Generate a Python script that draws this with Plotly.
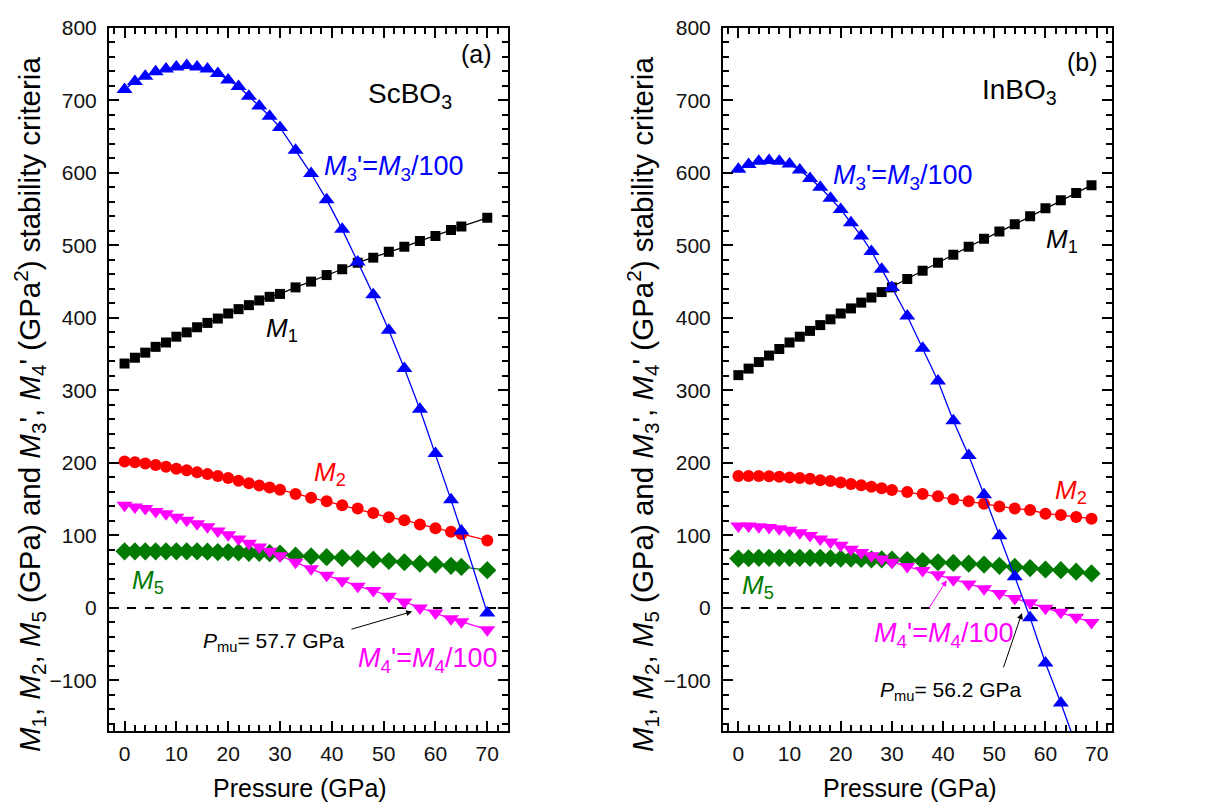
import plotly.graph_objects as go

# ---------------- data: panel (a) ScBO3 ----------------
P_a = [0, 2, 4, 6, 8, 10, 12, 14, 16, 18, 20, 22, 24, 26, 28, 30,
       33, 36, 39, 42, 45, 48, 51, 54, 57, 60, 63, 65, 70]
M1_a = [337, 345, 352, 360, 366, 374, 380, 387, 393, 399, 406, 412, 417.5, 424, 429, 433,
        442, 450, 459, 467, 476, 483, 491, 498, 506, 513, 521, 526, 538]
M2_a = [202, 201, 199, 197, 194.5, 192, 190, 187, 184.5, 182, 179, 175.5, 172, 168.7, 166, 163,
        157, 152, 147, 141.5, 137, 131, 125, 121, 115, 110, 105, 102, 93]
M3p_a = [715, 726, 733, 739.5, 743, 746, 748, 746, 743, 737, 728, 719, 705.6, 692, 678, 662.6,
         631, 599, 563, 522, 477, 432, 383, 330, 274, 213, 149, 106, -7]
M4p_a = [141.5, 139, 137, 133, 130, 125, 121, 116, 112, 106, 101, 95, 89, 84, 78, 72,
         63, 54, 45, 37.5, 30, 24, 16, 8, 0, -7, -15, -19, -30]
M5_a = [78, 78, 78, 78, 78, 78, 78, 78, 77.5, 77, 77, 76.5, 76, 76, 75.5, 75,
        72, 71, 70, 69, 68, 66.5, 64.7, 63, 61, 59.7, 58, 56.5, 52]

# ---------------- data: panel (b) InBO3 ----------------
P_b = [0, 2, 4, 6, 8, 10, 12, 14, 16, 18, 20, 22, 24, 26, 28, 30,
       33, 36, 39, 42, 45, 48, 51, 54, 57, 60, 63, 66, 69]
M1_b = [321, 330, 339, 348, 357, 366, 374, 382, 390, 398, 406, 413, 421, 428, 435.5, 442,
        453.6, 465, 476, 487, 498, 509, 519, 529, 540, 551, 562, 572, 583]
M2_b = [182, 182, 182, 181.5, 181, 180, 179, 178, 176, 175, 173, 171, 169, 167, 165, 162.5,
        160, 157, 154, 150, 147, 143.5, 140, 137, 135, 130, 128, 125.5, 123]
M3p_b = [605, 611.5, 616, 617, 616, 612, 604, 592, 580, 565, 549.5, 531, 513, 491.6, 467, 442,
         402.6, 358, 313, 258, 210, 156, 99.5, 43, -13.6, -76, -131, -190, None]
M4p_b = [113, 113, 112, 111, 109, 107, 103.5, 100, 95, 91, 86.5, 81, 76.5, 72, 67.5, 63,
         57, 51.5, 45.6, 39, 33, 26.5, 20, 13, 7, -0.5, -6, -13, -20]
M5_b = [68, 68.5, 69, 69, 69, 69, 69, 69, 69, 68.5, 68, 68, 67.5, 67, 67, 66.5,
        66, 64.7, 63, 62, 61, 59.7, 58, 56.5, 55, 53, 52, 50, 47.5]

Y_TICKS = [-100, 0, 100, 200, 300, 400, 500, 600, 700, 800]
X_TICKS = [0, 10, 20, 30, 40, 50, 60, 70]

FONT = "Liberation Sans, Arial, sans-serif"
BLUE, RED, MAG, GREEN, BLACK = "#0000FF", "#FF0000", "#FF00FF", "#007A00", "#000000"

fig = go.Figure()


def add_series(x, y, color, symbol, size, xa, ya):
    fig.add_trace(go.Scatter(
        x=x, y=y, mode="lines+markers", xaxis=xa, yaxis=ya,
        line=dict(color=color, width=1.3),
        marker=dict(color=color, symbol=symbol, size=size, line=dict(width=0)),
        showlegend=False, cliponaxis=True))


for xa, ya, P, M1, M2, M3p, M4p, M5 in [
        ("x", "y", P_a, M1_a, M2_a, M3p_a, M4p_a, M5_a),
        ("x2", "y2", P_b, M1_b, M2_b, M3p_b, M4p_b, M5_b)]:
    add_series(P, M5, GREEN, "diamond", 14, xa, ya)
    add_series(P, M4p, MAG, "triangle-down", 14, xa, ya)
    add_series(P, M2, RED, "circle", 12, xa, ya)
    add_series(P, M1, BLACK, "square", 10, xa, ya)
    add_series(P, M3p, BLUE, "triangle-up", 14, xa, ya)

yd = [81 / 811, 1 - 16 / 811]
common_x = dict(
    showline=True, linecolor="black", linewidth=2, mirror="ticks",
    ticks="inside", ticklen=10, tickwidth=2, tickcolor="black",
    tickvals=X_TICKS, showgrid=False, zeroline=False,
    minor=dict(dtick=2, ticks="inside", ticklen=6, tickwidth=1.5, tickcolor="black"),
    tickfont=dict(family=FONT, size=21, color="#111"), ticklabelstandoff=3,
)
common_y = dict(
    showline=True, linecolor="black", linewidth=2, mirror="ticks",
    ticks="inside", ticklen=10, tickwidth=2, tickcolor="black",
    tickvals=Y_TICKS, range=[-170, 800], showgrid=False, zeroline=False,
    minor=dict(dtick=20, ticks="inside", ticklen=6, tickwidth=1.5, tickcolor="black"),
    tickfont=dict(family=FONT, size=21, color="#111"), ticklabelstandoff=6,
)

fig.update_layout(
    width=1213, height=811,
    margin=dict(l=0, r=0, t=0, b=0),
    paper_bgcolor="white", plot_bgcolor="white",
    xaxis=dict(domain=[109 / 1213, 508 / 1213], range=[-3, 74], anchor="y", **common_x),
    yaxis=dict(domain=yd, anchor="x", **common_y),
    xaxis2=dict(domain=[723 / 1213, 1112 / 1213], range=[-3, 73], anchor="y2", **common_x),
    yaxis2=dict(domain=yd, anchor="x2", **common_y),
)

# zero dashed lines
for xr, yr in [("x domain", "y"), ("x2 domain", "y2")]:
    fig.add_shape(type="line", xref=xr, yref=yr, x0=0, x1=1, y0=0, y1=0,
                  line=dict(color="black", width=2, dash="dash"), layer="below")

ann = []


def txt(text, x, y, xref, yref, size=24, color=BLACK, **kw):
    ann.append(dict(text=text, x=x, y=y, xref=xref, yref=yref, showarrow=False,
                    xanchor="center", yanchor="middle",
                    font=dict(family=FONT, size=size, color=color), **kw))


def arrow(x, y, ax, ay, xref, yref, color=BLACK):
    ann.append(dict(text="", x=x, y=y, ax=ax, ay=ay, xref=xref, yref=yref,
                    axref=xref, ayref=yref, showarrow=True, arrowhead=2,
                    arrowsize=1.2, arrowwidth=1, arrowcolor=color, standoff=0,
                    startstandoff=0))


M = lambda n: "<i>M</i><sub>%s</sub>" % n

# panel (a)
txt("(a)", 68, 764, "x", "y", size=25)
txt("ScBO<sub>3</sub>", 55.1, 707, "x", "y", size=28)
txt(M(3) + "'=" + M(3) + "/100", 52, 607, "x", "y", size=27, color=BLUE)
txt(M(1), 30.4, 384, "x", "y", size=26)
txt(M(2), 39.7, 185, "x", "y", size=26, color=RED)
txt(M(5), 4.6, 37, "x", "y", size=26, color=GREEN)
txt("<i>P</i><sub>mu</sub>= 57.7 GPa", 28.9, -47, "x", "y", size=21)
txt(M(4) + "'=" + M(4) + "/100", 58.6, -72, "x", "y", size=27, color=MAG)
arrow(55.5, -5, 43.5, -30, "x", "y")

# panel (b)
txt("(b)", 67.3, 753, "x2", "y2", size=25)
txt("InBO<sub>3</sub>", 55, 712, "x2", "y2", size=28)
txt(M(3) + "'=" + M(3) + "/100", 32.2, 594, "x2", "y2", size=27, color=BLUE)
txt(M(1), 63.2, 507, "x2", "y2", size=26)
txt(M(2), 65, 161, "x2", "y2", size=26, color=RED)
txt(M(5), 3.9, 30, "x2", "y2", size=26, color=GREEN)
txt(M(4) + "'=" + M(4) + "/100", 40.2, -38, "x2", "y2", size=27, color=MAG)
txt("<i>P</i><sub>mu</sub>= 56.2 GPa", 41.5, -115, "x2", "y2", size=21)
arrow(40.7, 38, 37, -3, "x2", "y2", color=MAG)
arrow(55.4, -7, 51.7, -84, "x2", "y2")

# axis titles
ytitle = (M(1) + ", " + M(2) + ", " + M(5) + " (GPa) and " + M(3) + "', " + M(4) +
          "' (GPa<sup>2</sup>) stability criteria")
for xp in [30 / 1213, 643 / 1213]:
    txt(ytitle, xp, 1 - 398 / 811, "paper", "paper", size=29.5, textangle=-90)
txt("Pressure (GPa)", 33.9, 1 - 788 / 811, "x", "paper", size=25)
txt("Pressure (GPa)", 33.5, 1 - 788 / 811, "x2", "paper", size=25)

fig.update_layout(annotations=ann)
fig.write_html("out.html")
